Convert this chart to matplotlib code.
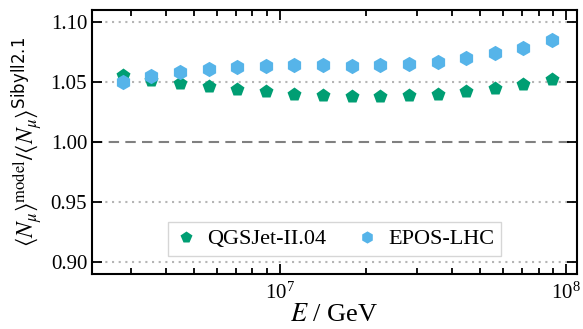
import numpy as np
import matplotlib
matplotlib.use("Agg")
import matplotlib.pyplot as plt
from matplotlib.ticker import LogLocator, NullFormatter, FixedLocator

plt.rcParams["font.family"] = ["Liberation Serif", "DejaVu Serif"]
plt.rcParams["mathtext.fontset"] = "custom"
plt.rcParams["mathtext.rm"] = "STIXGeneral"
plt.rcParams["mathtext.it"] = "STIXGeneral:italic"
plt.rcParams["mathtext.bf"] = "STIXGeneral:bold"
plt.rcParams["mathtext.sf"] = "Liberation Sans Narrow"
plt.rcParams["mathtext.fallback"] = "stix"

# log10(E / GeV) bin centres
log_energy = [6.45, 6.55, 6.65, 6.75, 6.85, 6.95, 7.05, 7.15,
              7.25, 7.35, 7.45, 7.55, 7.65, 7.75, 7.85, 7.95]

# muon number ratio relative to Sibyll 2.1
ratio_qgsjet = [1.0556, 1.0517, 1.0489, 1.0464, 1.0444, 1.0421, 1.0404, 1.0392,
                1.0386, 1.0384, 1.0389, 1.0397, 1.0428, 1.0453, 1.0481, 1.0522]
ratio_epos = [1.0496, 1.0547, 1.0586, 1.0611, 1.0628, 1.0636, 1.0639, 1.0639,
              1.0636, 1.0639, 1.0653, 1.0669, 1.0697, 1.0742, 1.0786, 1.0850]

y_ticks = [0.90, 0.95, 1.00, 1.05, 1.10]

energy = 10 ** np.array(log_energy)

fig = plt.figure(figsize=(5.83, 3.29), dpi=100)
ax = fig.add_axes([92 / 583, 1 - 274 / 329, (577 - 92) / 583, (274 - 10) / 329])

for y in y_ticks:
    if y == 1.0:
        ax.axhline(y, color="#808080", lw=1.5, ls=(0, (5, 3)), zorder=1)
    else:
        ax.axhline(y, color="#b5b5b5", lw=1.5, ls=(0, (1, 2.2)), zorder=1)

ax.plot(energy, ratio_qgsjet, ls="none", marker="p", ms=10.5, color="#009E73",
        mec="none", label="QGSJet-II.04", zorder=3)
ax.plot(energy, ratio_epos, ls="none", marker="h", ms=11, color="#56B4E9",
        mec="none", label="EPOS-LHC", zorder=3)

ax.set_xscale("log")
ax.set_xlim(2.2e6, 1.09e8)
ax.set_ylim(0.89, 1.11)
ax.yaxis.set_major_locator(FixedLocator(y_ticks))
ax.set_yticklabels([f"{v:.2f}" for v in y_ticks])
ax.xaxis.set_major_locator(LogLocator(base=10, numticks=10))
ax.xaxis.set_minor_locator(LogLocator(base=10, subs=np.arange(2, 10), numticks=20))
ax.xaxis.set_minor_formatter(NullFormatter())

ax.tick_params(which="both", direction="in", top=True, right=True, width=1.3,
               labelsize=15, colors="black")
ax.tick_params(which="major", length=7)
ax.tick_params(which="minor", length=4)
ax.tick_params(axis="x", which="major", pad=6)
for s in ax.spines.values():
    s.set_linewidth(1.5)

ax.set_xlabel(r"$E$ / GeV", fontsize=19, labelpad=0)
ax.set_ylabel(r"$\langle N_\mu\rangle^{\mathrm{model}} / \langle N_\mu\rangle^{\mathsf{Sibyll2.1}}$",
              fontsize=17, labelpad=4)

leg = ax.legend(loc="lower center", bbox_to_anchor=(0.5, 0.068), ncol=2,
                fontsize=16, frameon=True, fancybox=False, handletextpad=0.45,
                columnspacing=1.35, borderpad=0.3, handlelength=1.0,
                borderaxespad=0, markerscale=0.8)
leg.get_frame().set_edgecolor("#cccccc")
leg.get_frame().set_linewidth(1.0)

fig.savefig("out.png", dpi=100)
